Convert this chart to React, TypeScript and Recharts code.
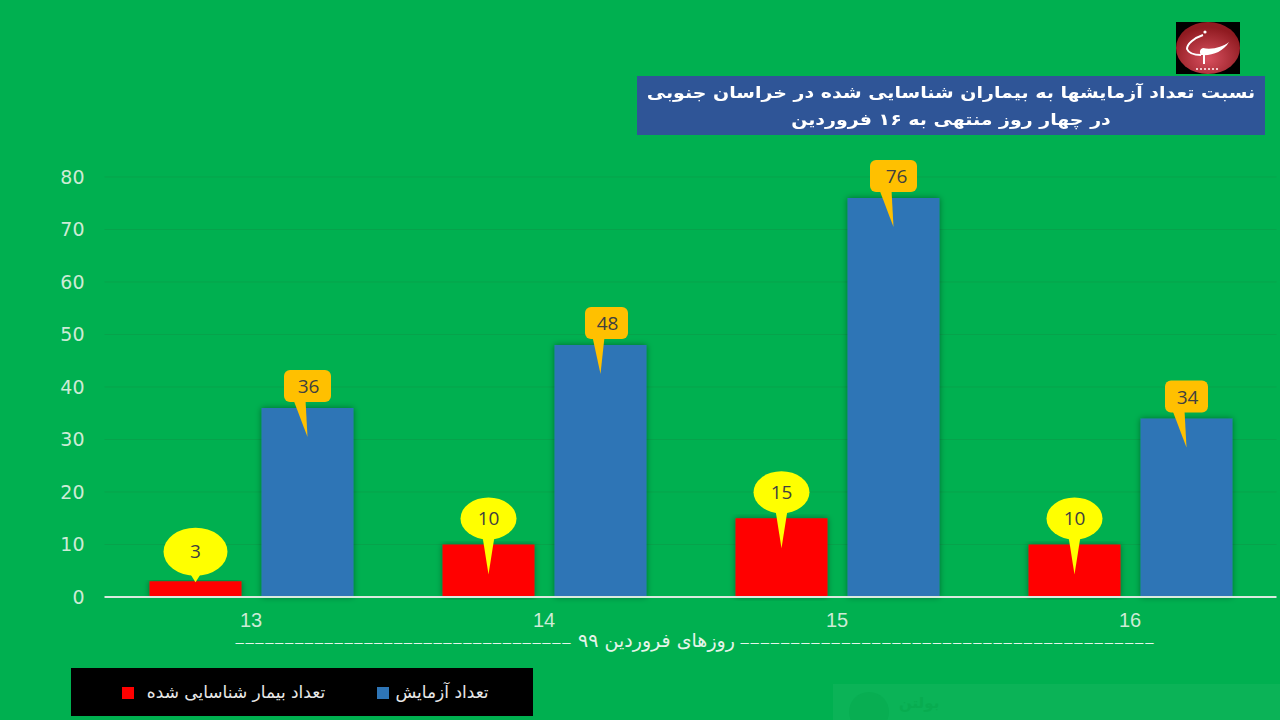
import { BarChart, Bar, XAxis, YAxis, CartesianGrid, Legend, Label, LabelList } from 'recharts';

const days = ['13', '14', '15', '16'];
const confirmed = [3, 10, 15, 10];
const tests = [36, 48, 76, 34];
const yTicks = [0, 10, 20, 30, 40, 50, 60, 70, 80];

const confirmedName = 'تعداد بیمار شناسایی شده';
const testsName = 'تعداد آزمایش';
const titleLines = [
  'نسبت تعداد آزمایشها به بیماران شناسایی شده در خراسان جنوبی',
  'در چهار روز منتهی به ۱۶ فروردین',
];
const axisTitle = 'روزهای فروردین ۹۹';
const axisDashesLeft = '––––––––––––––––––––––––––––––––––';
const axisDashesRight = '–––––––––––––––––––––––––––––––––––––––––';
const watermarkText = 'بولتن';

const data = days.map((day, i) => ({ day, confirmed: confirmed[i], tests: tests[i] }));

const arabicFont = '"DejaVu Sans", sans-serif';
const latinFont = '"Liberation Sans", Arial, sans-serif';
const calloutFont = '"Open Sans", sans-serif';

// round yellow callout for the red bars
const EllipseCallout = ({ x, y, width, value }: any) => {
  const cx = x + width / 2;
  const big = value < 10;
  const rx = big ? 32 : 28;
  const ry = big ? 24 : 21;
  const cy = big ? y - 29.5 : y - 26;
  const tip = big ? y + 1 : y + 30;
  return (
    <g>
      <ellipse cx={cx} cy={cy} rx={rx} ry={ry} fill="#FFFF00" />
      <path d={`M${cx - 6} ${cy + ry - 3} L${cx} ${tip} L${cx + 6} ${cy + ry - 3} Z`} fill="#FFFF00" />
      <text x={cx} y={cy + 6.5} textAnchor="middle" fontSize={19} fontFamily={calloutFont} fill="#404040">
        {value}
      </text>
    </g>
  );
};

// orange rounded callout for the blue bars
const RectCallout = ({ x, y, width, value }: any) => {
  const cx = x + width / 2;
  const shift = value === 48 ? 6 : 0;
  const w = value === 48 || value === 34 ? 43 : 47;
  const left = cx + shift - w / 2;
  const top = y - 38;
  const textShift = value === 76 ? 3 : 1;
  return (
    <g>
      <rect x={left} y={top} width={w} height={32} rx={6} fill="#FFC000" />
      <path d={`M${cx - 14 + shift} ${top + 30} L${cx} ${y + 29} L${cx - 2 + shift} ${top + 30} Z`} fill="#FFC000" />
      <text x={cx + shift + textShift} y={top + 23} textAnchor="middle" fontSize={19} fontFamily={calloutFont} fill="#404040">
        {value}
      </text>
    </g>
  );
};

// dashes stretched out to either side of the title, as in the source
const AxisTitle = ({ viewBox }: any) => {
  const y = viewBox.y + 50;
  const cx = viewBox.x + viewBox.width / 2;
  const common = { y, fontSize: 15, fontFamily: latinFont, fill: '#E6F4EA' };
  return (
    <g>
      <text {...common} x={cx - 455} textLength={335} lengthAdjust="spacing">
        {axisDashesLeft}
      </text>
      <text {...common} x={cx - 34} textAnchor="middle" fontFamily={arabicFont} fontSize={19}>
        {axisTitle}
      </text>
      <text {...common} x={cx + 50} textLength={413} lengthAdjust="spacing">
        {axisDashesRight}
      </text>
    </g>
  );
};

const LegendBox = () => (
  <div
    style={{
      background: '#000',
      width: 462,
      height: 48,
      position: 'relative',
      fontFamily: arabicFont,
      fontSize: 17,
      lineHeight: '20px',
      color: '#e8e8e8',
    }}
  >
    <span style={{ position: 'absolute', left: 51, top: 19, width: 12, height: 12, background: '#FF0000' }} />
    <span style={{ position: 'absolute', left: 75, top: 14, width: 180, textAlign: 'center', whiteSpace: 'nowrap' }}>{confirmedName}</span>
    <span style={{ position: 'absolute', left: 306, top: 19, width: 12, height: 12, background: '#2E75B6' }} />
    <span style={{ position: 'absolute', left: 323, top: 14, width: 96, textAlign: 'center', whiteSpace: 'nowrap' }}>{testsName}</span>
  </div>
);

const Logo = () => (
  <svg width={64} height={52} style={{ position: 'absolute', left: 1176, top: 22 }}>
    <defs>
      <radialGradient id="logoRed" cx="50%" cy="70%" r="60%">
        <stop offset="0%" stopColor="#d8505f" />
        <stop offset="100%" stopColor="#8f1a20" />
      </radialGradient>
    </defs>
    <rect width={64} height={52} fill="#000" />
    <ellipse cx={32} cy={26} rx={32} ry={26} fill="url(#logoRed)" />
    <path d="M27 13 C18 16 11 22 11 27 C13 32 20 33 25 33" fill="none" stroke="#fff" strokeWidth={2} />
    <path d="M25 33 C36 34 47 30 53 20 C47 25 36 28 27 26 C24 27 23 30 25 33 Z" fill="#fff" />
    <path d="M28 33 L28 42" stroke="#fff" strokeWidth={2} />
    <circle cx={29} cy={10} r={1.6} fill="#fff" />
    <path d="M20 47 L44 47" stroke="#f3c9cd" strokeWidth={2} strokeDasharray="2 2" />
  </svg>
);

const Title = () => (
  <div
    style={{
      position: 'absolute',
      left: 637,
      top: 76,
      width: 628,
      height: 59,
      background: '#2F5597',
      color: '#fff',
      fontFamily: arabicFont,
      fontWeight: 700,
      fontSize: 16,
      lineHeight: '27px',
      paddingTop: 3,
      boxSizing: 'border-box',
      textAlign: 'center',
      direction: 'rtl',
      whiteSpace: 'nowrap',
    }}
  >
    {titleLines.map((line) => (
      <div key={line} style={{ transform: 'scaleX(1.185)' }}>
        {line}
      </div>
    ))}
  </div>
);

// faint page element showing through at the bottom right of the source image
const Watermark = () => (
  <div style={{ position: 'absolute', left: 833, top: 684, width: 447, height: 36, background: '#0BB357', overflow: 'hidden' }}>
    <div style={{ position: 'absolute', left: 16, top: 8, width: 40, height: 40, borderRadius: 20, background: '#08AE52' }} />
    <div style={{ position: 'absolute', left: 66, top: 10, fontFamily: arabicFont, fontWeight: 700, fontSize: 15, color: '#08AC50' }}>{watermarkText}</div>
  </div>
);

const App = () => (
  <div style={{ position: 'absolute', left: 0, top: 0, width: 1280, height: 720, background: '#00B050', overflow: 'hidden' }}>
    <Watermark />
    <BarChart
      width={1280}
      height={720}
      data={data}
      margin={{ top: 177, right: 3.5, bottom: 15, left: 0 }}
      barSize={92}
      barGap={20}
    >
      <defs>
        <filter id="barShadow" x="-10%" y="-5%" width="120%" height="110%">
          <feDropShadow dx={0} dy={0} stdDeviation={3} floodColor="#000" floodOpacity={0.4} />
        </filter>
      </defs>
      <CartesianGrid horizontal vertical={false} stroke="#06A34B" strokeWidth={1} />
      <XAxis
        dataKey="day"
        height={60}
        tickLine={false}
        axisLine={{ stroke: '#D9EADF', strokeWidth: 2 }}
        tick={{ fontSize: 20, fontFamily: latinFont, fill: '#CDEBD6' }}
        tickMargin={10}
      >
        <Label content={<AxisTitle />} />
      </XAxis>
      <YAxis
        width={104.5}
        domain={[0, 80]}
        ticks={yTicks}
        tickLine={false}
        axisLine={false}
        tick={{ fontSize: 19, fontFamily: arabicFont, fill: '#CDEBD6' }}
        tickMargin={14}
      />
      <Legend
        verticalAlign="bottom"
        align="left"
        content={<LegendBox />}
        wrapperStyle={{ position: 'absolute', left: 71, top: 668, bottom: 'auto', width: 462, height: 48 }}
      />
      <Bar dataKey="confirmed" name={confirmedName} fill="#FF0000" isAnimationActive={false} style={{ filter: 'url(#barShadow)' }}>
        <LabelList dataKey="confirmed" content={<EllipseCallout />} />
      </Bar>
      <Bar dataKey="tests" name={testsName} fill="#2E75B6" isAnimationActive={false} style={{ filter: 'url(#barShadow)' }}>
        <LabelList dataKey="tests" content={<RectCallout />} />
      </Bar>
    </BarChart>
    <Logo />
    <Title />
  </div>
);

export default App;
